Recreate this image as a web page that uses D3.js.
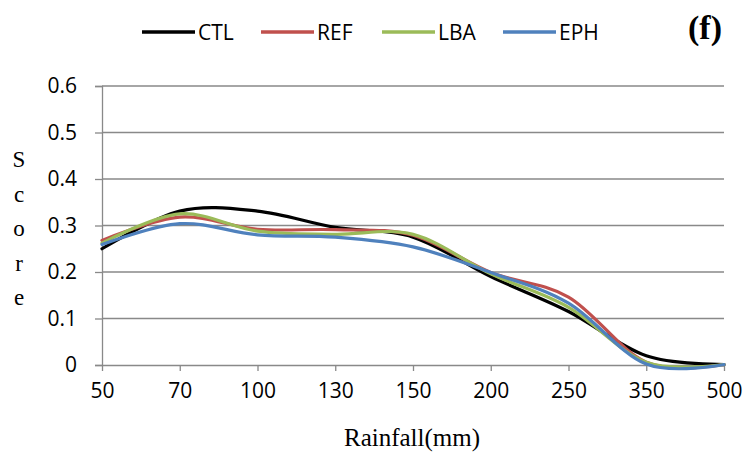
<!DOCTYPE html>
<html>
<head>
<meta charset="utf-8">
<script src="https://cdn.jsdelivr.net/npm/d3@7"></script>
<style>
  body { margin: 0; background: #fff; }
  text { font-family: "Open Sans", sans-serif; }
</style>
</head>
<body>
<div id="chart"></div>
<script>
const rainfall = ["50", "70", "100", "130", "150", "200", "250", "350", "500"];
const ctl = [0.250, 0.331, 0.331, 0.296, 0.275, 0.190, 0.115, 0.020, 0.001];
const ref = [0.268, 0.318, 0.292, 0.291, 0.279, 0.199, 0.146, 0.006, 0.001];
const lba = [0.262, 0.325, 0.288, 0.281, 0.281, 0.196, 0.124, 0.006, 0.001];
const eph = [0.259, 0.304, 0.280, 0.275, 0.254, 0.199, 0.133, 0.002, 0.001];
const yTicks = [0, 0.1, 0.2, 0.3, 0.4, 0.5, 0.6];

const series = [
    { name: "CTL", values: ctl, color: "#000000" },
    { name: "REF", values: ref, color: "#C0504D" },
    { name: "LBA", values: lba, color: "#9BBB59" },
    { name: "EPH", values: eph, color: "#4F81BD" }
];

const width = 744, height = 453;
const plot = { left: 102, right: 724, top: 86, bottom: 365 };

const svg = d3.select("#chart")
    .append("svg")
    .attr("width", width)
    .attr("height", height);

const x = d3.scalePoint()
    .domain(rainfall)
    .range([plot.left, plot.right]);

const y = d3.scaleLinear()
    .domain([0, 0.6])
    .range([plot.bottom, plot.top]);

// gridlines
svg.append("g")
    .selectAll("line")
    .data(yTicks.slice(1))
    .join("line")
    .attr("x1", plot.left)
    .attr("x2", plot.right)
    .attr("y1", d => y(d))
    .attr("y2", d => y(d))
    .attr("stroke", "#898989")
    .attr("stroke-width", 1.3);

// y axis
const yAxis = svg.append("g")
    .attr("transform", `translate(${plot.left},0)`)
    .call(d3.axisLeft(y).tickValues(yTicks).tickFormat(d => d === 0 ? "0" : d3.format(".1f")(d)).tickSize(7).tickPadding(18));
yAxis.select(".domain").attr("stroke", "#898989").attr("stroke-width", 1.3);
yAxis.selectAll(".tick line").attr("stroke", "#898989").attr("stroke-width", 1.3);
yAxis.selectAll(".tick text")
    .attr("fill", "#000")
    .style("font-family", "'Open Sans', sans-serif")
    .style("font-size", "21px");

// x axis
const xAxis = svg.append("g")
    .attr("transform", `translate(0,${plot.bottom})`)
    .call(d3.axisBottom(x).tickSize(6).tickSizeOuter(0).tickPadding(12));
xAxis.select(".domain").attr("stroke", "#898989").attr("stroke-width", 1.3);
xAxis.selectAll(".tick line").attr("stroke", "#898989").attr("stroke-width", 1.3);
xAxis.selectAll(".tick text")
    .attr("fill", "#000")
    .style("font-family", "'Open Sans', sans-serif")
    .style("font-size", "21px");

// lines
const line = d3.line()
    .x((d, i) => x(rainfall[i]))
    .y(d => y(d))
    .curve(d3.curveCardinal.tension(0));

svg.append("g")
    .selectAll("path")
    .data(series)
    .join("path")
    .attr("d", d => line(d.values))
    .attr("fill", "none")
    .attr("stroke", d => d.color)
    .attr("stroke-width", 3.2)
    .attr("stroke-linejoin", "round")
    .attr("stroke-linecap", "round");

// legend
const legendX = [142, 261, 382, 503];
const legend = svg.append("g")
    .selectAll("g")
    .data(series)
    .join("g")
    .attr("transform", (d, i) => `translate(${legendX[i]},32)`);
legend.append("line")
    .attr("x1", 0)
    .attr("x2", 53)
    .attr("stroke", d => d.color)
    .attr("stroke-width", 3.5);
legend.append("text")
    .attr("x", 56)
    .attr("y", 8)
    .style("font-size", "21px")
    .text(d => d.name);

// panel letter
svg.append("text")
    .attr("x", 705)
    .attr("y", 39)
    .attr("text-anchor", "middle")
    .style("font-family", "'Liberation Serif', 'Times New Roman', serif")
    .style("font-size", "34px")
    .style("font-weight", "bold")
    .text("(f)");

// y title, stacked letters
svg.append("g")
    .selectAll("text")
    .data("Score".split(""))
    .join("text")
    .attr("x", 19)
    .attr("y", (d, i) => 167 + i * 34.5)
    .attr("text-anchor", "middle")
    .style("font-family", "'Liberation Serif', 'Times New Roman', serif")
    .style("font-size", "23px")
    .text(d => d);

// x title
svg.append("text")
    .attr("x", 412)
    .attr("y", 446)
    .attr("text-anchor", "middle")
    .style("font-family", "'Liberation Serif', 'Times New Roman', serif")
    .style("font-size", "25px")
    .text("Rainfall(mm)");
</script>
</body>
</html>
